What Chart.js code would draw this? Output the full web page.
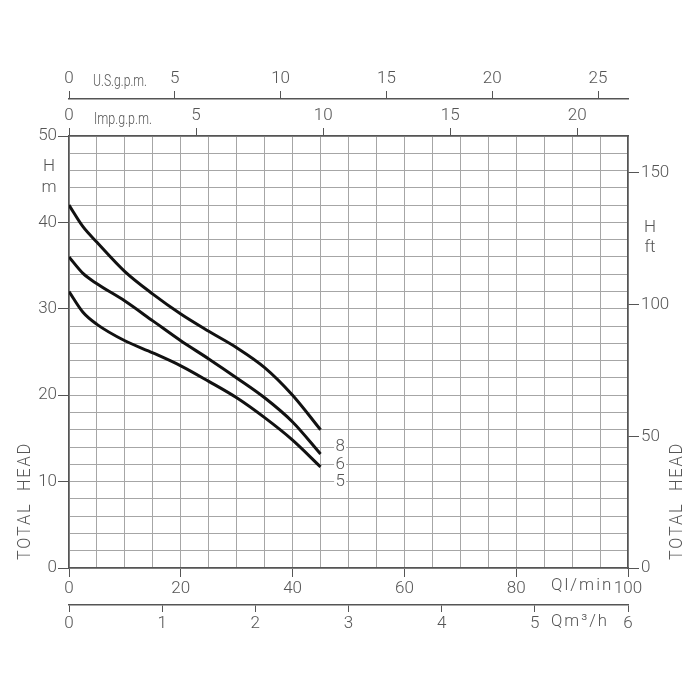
<!DOCTYPE html>
<html>
<head>
<meta charset="utf-8">
<script src="https://cdn.jsdelivr.net/npm/chart.js@4"></script>
<style>
    html, body { margin: 0; padding: 0; background: #fff; }
    canvas { display: block; }
</style>
</head>
<body>
<canvas id="pumpChart" width="700" height="700"></canvas>
<script>
// flow in l/min, head in m
const flows = [0, 2.5, 5, 10, 15, 20, 25, 30, 35, 40, 45];
const head8 = [42, 39.5, 37.7, 34.3, 31.7, 29.4, 27.4, 25.5, 23.2, 20.0, 16.0];
const head6 = [36, 34.1, 32.9, 30.9, 28.6, 26.3, 24.2, 22.0, 19.7, 16.9, 13.2];
const head5 = [32, 29.6, 28.2, 26.3, 24.9, 23.4, 21.6, 19.7, 17.4, 14.8, 11.7];
const curveNames = ["8", "6", "5"];
const curveLabelHeads = [14, 12, 10];

const LPM_PER_USGPM = 3.78541;
const LPM_PER_IMPGPM = 4.54609;
const LPM_PER_M3H = 100 / 6;
const M_PER_FT = 0.3048;

const fontFamily = "Roboto, 'DejaVu Sans', sans-serif";
const textColor = "#555";
const gridColor = "#a6a6a6";
const tickFont = { family: fontFamily, size: 17, weight: 300 };

function toPoints(heads) {
    return flows.map((f, i) => ({ x: f, y: heads[i] }));
}

function tickColorEvery(step) {
    return (ctx) =>
        ctx.tick && Math.abs(ctx.tick.value % step) < 1e-6 ? textColor : "rgba(0,0,0,0)";
}

const extraText = {
    id: "extraText",
    afterDraw(chart) {
        const ctx = chart.ctx;
        const x = chart.scales.x;
        const y = chart.scales.y;
        ctx.save();
        ctx.fillStyle = textColor;
        ctx.font = "300 17px " + fontFamily;
        ctx.textBaseline = "middle";

        ctx.textAlign = "left";
        ctx.fillText("U.S.g.p.m.", 93, 82, 54);
        ctx.fillText("Imp.g.p.m.", 94, 120, 58);

        ctx.textAlign = "center";
        ctx.fillText("H", 49, 167);
        ctx.fillText("m", 49, 188);
        ctx.fillText("H", 650, 228);
        ctx.fillText("ft", 650, 248);

        ctx.textAlign = "left";
        ctx.letterSpacing = "2px";
        ctx.fillText("Ql/min", 551, 586, 64);
        ctx.fillText("Qm³/h", 551, 622, 58);
        ctx.letterSpacing = "0px";

        // curve labels sitting on the grid lines
        ctx.textAlign = "center";
        curveNames.forEach((name, i) => {
            const px = x.getPixelForValue(48.5);
            const py = y.getPixelForValue(curveLabelHeads[i]);
            ctx.fillStyle = "#fff";
            ctx.fillRect(px - 6, py - 7, 12, 14);
            ctx.fillStyle = textColor;
            ctx.fillText(name, px, py);
        });

        ctx.font = "300 18px " + fontFamily;
        ctx.letterSpacing = "2px";
        [25, 677].forEach((cx) => {
            ctx.save();
            ctx.translate(cx, 501);
            ctx.rotate(-Math.PI / 2);
            ctx.fillText("TOTAL  HEAD", 0, 0, 118);
            ctx.restore();
        });
        ctx.restore();
    },
};

const curveStyle = {
    borderColor: "#111",
    borderWidth: 3,
    pointRadius: 0,
    fill: false,
    cubicInterpolationMode: "monotone",
};

const config = {
    type: "line",
    data: {
        datasets: [
            { label: curveNames[0], data: toPoints(head8), ...curveStyle },
            { label: curveNames[1], data: toPoints(head6), ...curveStyle },
            { label: curveNames[2], data: toPoints(head5), ...curveStyle },
        ],
    },
    options: {
        responsive: false,
        animation: false,
        layout: { padding: 0 },
        plugins: { legend: { display: false }, tooltip: { enabled: false } },
        scales: {
            x: {
                type: "linear",
                position: "bottom",
                weight: 0,
                min: 0,
                max: 100,
                ticks: {
                    stepSize: 5,
                    autoSkip: false,
                    maxRotation: 0,
                    padding: 2,
                    color: textColor,
                    font: tickFont,
                    callback: (v) => (v % 20 === 0 ? v : ""),
                },
                grid: { color: gridColor, tickLength: 9, tickColor: tickColorEvery(20) },
                border: { color: textColor, width: 1.5 },
                afterFit: (s) => { s.height = 37; },
            },
            x4: {
                type: "linear",
                position: "bottom",
                weight: 1,
                min: 0,
                max: 100 / LPM_PER_M3H,
                ticks: {
                    stepSize: 1,
                    includeBounds: false,
                    maxRotation: 0,
                    padding: 2,
                    color: textColor,
                    font: tickFont,
                },
                grid: { drawOnChartArea: false, tickLength: 7, color: textColor },
                border: { color: textColor, width: 1.5 },
                afterFit: (s) => { s.height = 95; },
            },
            x2: {
                type: "linear",
                position: "top",
                weight: 0,
                min: 0,
                max: 100 / LPM_PER_IMPGPM,
                ticks: {
                    stepSize: 5,
                    includeBounds: false,
                    maxRotation: 0,
                    padding: 2,
                    color: textColor,
                    font: tickFont,
                },
                grid: { drawOnChartArea: false, tickLength: 8, color: textColor },
                border: { color: textColor, width: 1.5 },
                afterFit: (s) => { s.height = 37; },
            },
            x3: {
                type: "linear",
                position: "top",
                weight: 1,
                min: 0,
                max: 100 / LPM_PER_USGPM,
                ticks: {
                    stepSize: 5,
                    includeBounds: false,
                    maxRotation: 0,
                    padding: 2,
                    color: textColor,
                    font: tickFont,
                },
                grid: { drawOnChartArea: false, tickLength: 8, color: textColor },
                border: { color: textColor, width: 1.5 },
                afterFit: (s) => { s.height = 99; },
            },
            y: {
                type: "linear",
                position: "left",
                min: 0,
                max: 50,
                ticks: {
                    stepSize: 2,
                    autoSkip: false,
                    padding: 1,
                    color: textColor,
                    font: tickFont,
                    callback: (v) => (v % 10 === 0 ? v : ""),
                },
                grid: { color: gridColor, tickLength: 11, tickColor: tickColorEvery(10) },
                border: { color: textColor, width: 1.5 },
                afterFit: (s) => { s.width = 69; },
            },
            y2: {
                type: "linear",
                position: "right",
                min: 0,
                max: 50 / M_PER_FT,
                ticks: {
                    stepSize: 50,
                    includeBounds: false,
                    padding: 2,
                    color: textColor,
                    font: tickFont,
                },
                grid: { drawOnChartArea: false, tickLength: 11, color: textColor },
                border: { color: textColor, width: 1.5 },
                afterFit: (s) => { s.width = 72; },
            },
        },
    },
    plugins: [extraText],
};

const pumpChart = new Chart(document.getElementById("pumpChart"), config);
</script>
</body>
</html>
